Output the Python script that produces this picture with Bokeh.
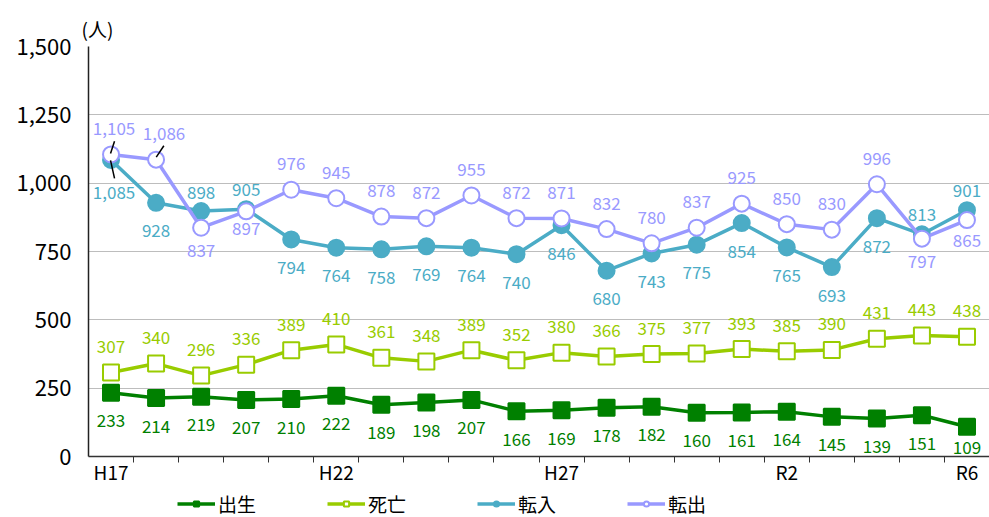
from bokeh.plotting import figure
from bokeh.layouts import column
from bokeh.models import (FixedTicker, NumeralTickFormatter, Legend, LegendItem,
                          Range1d, ColumnDataSource)
from bokeh.core.properties import value
from bokeh.embed import file_html
from bokeh.resources import INLINE

# ---------------- data ----------------
years = ["H17", "H18", "H19", "H20", "H21", "H22", "H23", "H24", "H25", "H26",
         "H27", "H28", "H29", "H30", "R1", "R2", "R3", "R4", "R5", "R6"]
tick_labels = {0: "H17", 5: "H22", 10: "H27", 15: "R2", 19: "R6"}

births = [233, 214, 219, 207, 210, 222, 189, 198, 207, 166,
          169, 178, 182, 160, 161, 164, 145, 139, 151, 109]
deaths = [307, 340, 296, 336, 389, 410, 361, 348, 389, 352,
          380, 366, 375, 377, 393, 385, 390, 431, 443, 438]
moved_in = [1085, 928, 898, 905, 794, 764, 758, 769, 764, 740,
            846, 680, 743, 775, 854, 765, 693, 872, 813, 901]
moved_out = [1105, 1086, 837, 897, 976, 945, 878, 872, 955, 872,
             871, 832, 780, 837, 925, 850, 830, 996, 797, 865]

# ---------------- style ----------------
FONT = "Noto Sans CJK JP"
C_BIRTH = "#008000"
C_DEATH = "#99cc00"
C_IN = "#4bacc6"
C_OUT = "#9999ff"

W = 989
H_MAIN, H_LEG = 488, 29
LEFT, RIGHT, TOP, BOTTOM = 88, 0, 46, 32
x_end = 19.5

p = figure(width=W, height=H_MAIN, output_backend="svg", toolbar_location=None,
           x_range=Range1d(-0.5, x_end), y_range=Range1d(0, 1500),
           min_border_left=LEFT, min_border_right=RIGHT,
           min_border_top=TOP, min_border_bottom=BOTTOM)
p.outline_line_color = None
p.background_fill_color = "white"
p.border_fill_color = "white"

# unit label as title
p.title.text = "(人)"
p.title.text_font = FONT
p.title.text_font_size = "19px"
p.title.text_font_style = "normal"
p.title.text_color = "black"
p.title.align = "left"
p.title.vertical_align = "top"
p.title.text_line_height = 0.9
p.title.offset = -7
p.title.standoff = 6

# axes
n = len(years)
p.xaxis.ticker = FixedTicker(ticks=list(tick_labels.keys()),
                             minor_ticks=[i + 0.5 for i in range(n)])
p.xaxis.major_label_overrides = {k: v for k, v in tick_labels.items()}
p.xaxis.major_tick_line_color = None
p.xaxis.major_tick_out = 0
p.xaxis.major_tick_in = 0
p.xaxis.minor_tick_line_color = "#333333"
p.xaxis.minor_tick_out = 6
p.xaxis.minor_tick_in = 0
p.xaxis.axis_line_color = "#333333"
p.xaxis.axis_line_width = 1.5
p.xaxis.major_label_text_font = FONT
p.xaxis.major_label_text_font_size = "19px"
p.xaxis.major_label_text_color = "black"
p.xaxis.major_label_standoff = -5
p.xgrid.grid_line_color = None

p.yaxis.ticker = FixedTicker(ticks=[0, 250, 500, 750, 1000, 1250, 1500])
p.yaxis.formatter = NumeralTickFormatter(format="0,0")
p.yaxis.major_tick_line_color = None
p.yaxis.minor_tick_line_color = None
p.yaxis.major_tick_out = 0
p.yaxis.major_tick_in = 0
p.yaxis.axis_line_color = "#222222"
p.yaxis.axis_line_width = 1.5
p.yaxis.major_label_text_font = FONT
p.yaxis.major_label_text_font_size = "22px"
p.yaxis.major_label_text_color = "black"
p.yaxis.major_label_standoff = 17
p.ygrid.grid_line_color = "#bdbdbd"
p.ygrid.grid_line_width = 1.2

xs = list(range(n))

# pixel scales for annotation offsets
sx = (W - LEFT - RIGHT) / (x_end + 0.5)
sy = (H_MAIN - TOP - BOTTOM) / 1500.0

series = [
    ("出生", births, C_BIRTH, "square", C_BIRTH),
    ("死亡", deaths, C_DEATH, "square", "white"),
    ("転入", moved_in, C_IN, "circle", C_IN),
    ("転出", moved_out, C_OUT, "circle", "white"),
]

ABOVE, BELOW = -26, 28
label_dy = {
    "出生": [BELOW] * (n - 1) + [21],
    "死亡": [ABOVE] * n,
    "転入": [33, BELOW, -19, -20] + [BELOW] * 14 + [-20, -20],
    "転出": [-26, -26, 23, 17] + [ABOVE] * 14 + [23, 20],
}
label_dx = {k: [0] * n for k in label_dy}
label_dx["転入"][0] = 3
label_dx["転出"][0] = 3
label_dx["転出"][1] = 8

for name, vals, col, marker, fill in series:
    src = ColumnDataSource(dict(x=xs, y=vals))
    p.line("x", "y", source=src, line_color=col, line_width=3.5)
    p.scatter("x", "y", source=src, marker=marker, size=16,
              line_color=col, line_width=2, fill_color=fill)

for name, vals, col, marker, fill in series:
    txt = [f"{v:,}" for v in vals]
    lsrc = ColumnDataSource(dict(x=xs, y=vals, t=txt,
                                 dx=label_dx[name], dy=label_dy[name]))
    p.text("x", "y", text="t", source=lsrc, x_offset="dx", y_offset="dy",
           text_color=col, text_font=value(FONT), text_font_size="17px",
           text_align="center", text_baseline="middle")

# leader lines (pixel offsets from the data points)
leaders = [
    (0, moved_out[0], (-0.5, 1), (3.5, 13.3)),
    (1, moved_out[1], (0.2, 2.5), (7.8, 13.9)),
    (0, moved_in[0], (-0.5, -0.5), (3.5, -18.5)),
]
x0 = [i + a[0] / sx for i, v, a, b in leaders]
y0 = [v + a[1] / sy for i, v, a, b in leaders]
x1 = [i + b[0] / sx for i, v, a, b in leaders]
y1 = [v + b[1] / sy for i, v, a, b in leaders]
p.segment(x0=x0, y0=y0, x1=x1, y1=y1, line_color="black", line_width=1.5)

# ---------------- legend strip ----------------
pl = figure(width=W, height=H_LEG, output_backend="svg", toolbar_location=None,
            x_axis_type=None, y_axis_type=None,
            x_range=Range1d(0, 1), y_range=Range1d(0, 1),
            min_border_left=0, min_border_right=0,
            min_border_top=0, min_border_bottom=0)
pl.outline_line_color = None
pl.xgrid.grid_line_color = None
pl.ygrid.grid_line_color = None
pl.background_fill_color = "white"
pl.border_fill_color = "white"

items = []
for name, vals, col, marker, fill in series:
    # off-range placeholder so the legend can draw the glyph style
    hidden = ColumnDataSource(dict(x=[-5], y=[-5]))
    lr = pl.line("x", "y", source=hidden, line_color=col, line_width=3.5)
    mr = pl.scatter("x", "y", source=hidden, marker=marker, size=12,
                    line_color=col, line_width=2, fill_color=fill)
    items.append(LegendItem(label=name, renderers=[lr, mr]))

legend = Legend(items=items, orientation="horizontal", location=(89, 0),
                label_text_font=FONT, label_text_font_size="19px",
                label_text_color="black", glyph_width=38, glyph_height=13,
                label_standoff=3, spacing=71, padding=0, margin=0,
                border_line_color=None, background_fill_alpha=0)
pl.add_layout(legend, "center")

layout = column(p, pl, spacing=0)
open("out.html", "w").write(file_html(layout, INLINE))
